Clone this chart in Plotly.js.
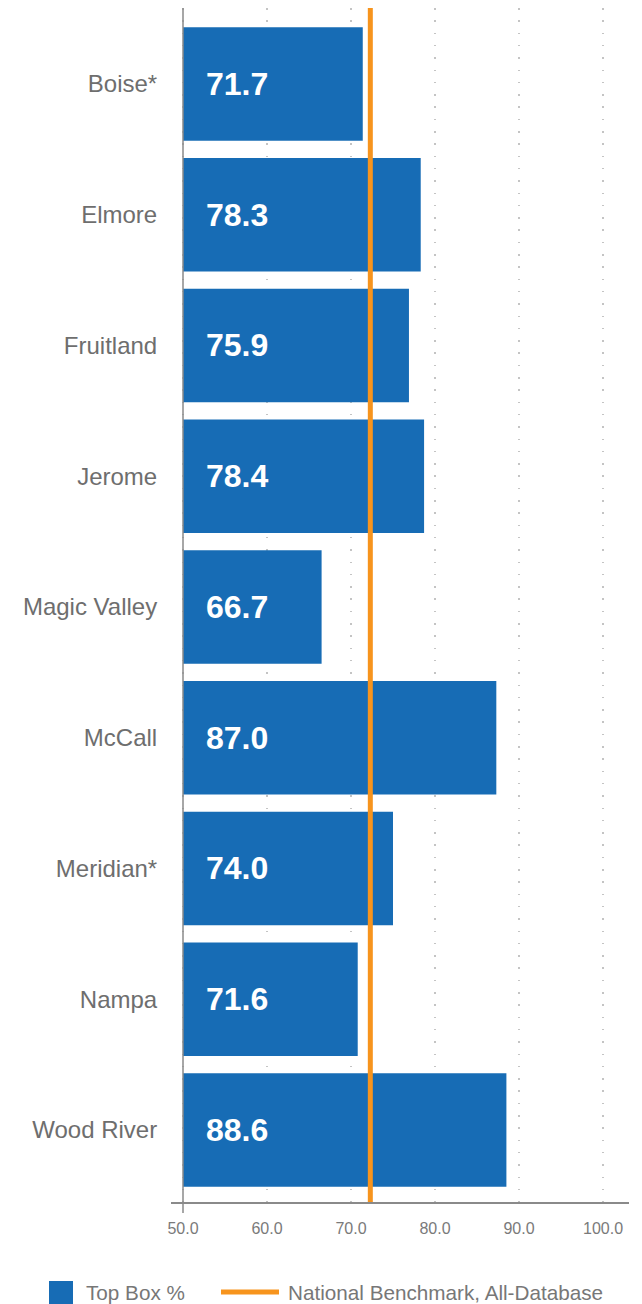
<!DOCTYPE html>
<html>
<head>
<meta charset="utf-8">
<script src="https://cdn.plot.ly/plotly-3.0.1.min.js"></script>
<style>html,body{margin:0;padding:0;background:#fff;}#chart{width:642px;height:1304px;}</style>
</head>
<body>
<div id="chart"></div>
<script>
const categories = ['Boise*', 'Elmore', 'Fruitland', 'Jerome', 'Magic Valley', 'McCall', 'Meridian*', 'Nampa', 'Wood River'];
// bar lengths as drawn in the picture
const barValues = [71.4, 78.3, 76.9, 78.7, 66.5, 87.3, 75.0, 70.8, 88.5];
// value labels as printed on the bars
const labelValues = [71.7, 78.3, 75.9, 78.4, 66.7, 87.0, 74.0, 71.6, 88.6];
const benchmark = 72.3;
const baseValue = 50;
const xTickVals = [50, 60, 70, 80, 90, 100];
const xTickText = ['50.0', '60.0', '70.0', '80.0', '90.0', '100.0'];
const seriesNames = ['Top Box %', 'National Benchmark, All-Database'];

const BLUE = '#176cb5';
const ORANGE = '#f7941d';
const FONT = 'Liberation Sans, Arial, Helvetica, sans-serif';

const W = 642, H = 1304;
const M = {l: 171, r: 13, t: 8, b: 102};
const pw = W - M.l - M.r, ph = H - M.t - M.b;
const px2x = p => (p - M.l) / pw;
const px2y = p => (H - M.b - p) / ph;

const barTrace = {
  type: 'bar',
  orientation: 'h',
  y: categories,
  x: barValues.map(v => v - baseValue),
  base: barValues.map(() => baseValue),
  marker: {color: BLUE, line: {width: 0}},
  name: seriesNames[0],
  hoverinfo: 'skip',
  showlegend: false
};

const benchTrace = {
  type: 'scatter',
  mode: 'lines',
  x: [benchmark, benchmark],
  y: [0, 1],
  yaxis: 'y2',
  line: {color: ORANGE, width: 5},
  name: seriesNames[1],
  hoverinfo: 'skip',
  showlegend: false
};

const annotations = categories.map((c, i) => ({
  x: baseValue, y: c, xref: 'x', yref: 'y',
  text: '<b>' + labelValues[i].toFixed(1) + '</b>',
  xanchor: 'left', yanchor: 'middle', xshift: 21, yshift: 0,
  showarrow: false,
  font: {family: FONT, size: 32, color: '#ffffff'}
}));

// legend drawn below the plot
annotations.push({
  xref: 'paper', yref: 'paper', x: px2x(84), y: px2y(1293),
  xanchor: 'left', yanchor: 'middle', showarrow: false,
  text: seriesNames[0], font: {family: FONT, size: 20.7, color: '#777777'}
});
annotations.push({
  xref: 'paper', yref: 'paper', x: px2x(286), y: px2y(1293),
  xanchor: 'left', yanchor: 'middle', showarrow: false,
  text: seriesNames[1], font: {family: FONT, size: 20.7, color: '#777777'}
});

const shapes = [
  {type: 'line', xref: 'x', yref: 'paper', x0: baseValue, x1: baseValue, y0: px2y(1213), y1: 1,
   line: {color: '#8a8a8a', width: 1.5}, layer: 'above'},
  {type: 'rect', xref: 'paper', yref: 'paper', x0: px2x(49), x1: px2x(73), y0: px2y(1305), y1: px2y(1281),
   fillcolor: BLUE, line: {width: 0}},
  {type: 'line', xref: 'paper', yref: 'paper', x0: px2x(221), x1: px2x(279), y0: px2y(1292), y1: px2y(1292),
   line: {color: ORANGE, width: 5}}
];

const layout = {
  width: W, height: H,
  margin: M,
  paper_bgcolor: '#ffffff',
  plot_bgcolor: '#ffffff',
  showlegend: false,
  bargap: 0.132,
  xaxis: {
    range: [baseValue - 12 / 8.4, 100 + 26 / 8.4],
    tickvals: xTickVals, ticktext: xTickText,
    showgrid: true, gridcolor: '#c4c4c4', gridwidth: 1.5, griddash: '1.5px,10.8px',
    zeroline: false,
    showline: true, linecolor: '#8a8a8a', linewidth: 1.5,
    ticks: 'outside', ticklen: 11, tickcolor: 'rgba(0,0,0,0)',
    tickfont: {family: FONT, size: 16, color: '#7a7a7a'},
    fixedrange: true
  },
  yaxis: {
    type: 'category',
    range: [8.551, -0.581],
    autorange: false,
    showgrid: false, zeroline: false, showline: false,
    ticks: 'outside', ticklen: 8, tickcolor: 'rgba(0,0,0,0)',
    tickfont: {family: FONT, size: 24, color: '#6e6e6e'},
    fixedrange: true
  },
  yaxis2: {
    overlaying: 'y', range: [0, 1], visible: false, fixedrange: true
  },
  annotations: annotations,
  shapes: shapes
};

Plotly.newPlot('chart', [barTrace, benchTrace], layout, {displayModeBar: false, staticPlot: true});
</script>
</body>
</html>
